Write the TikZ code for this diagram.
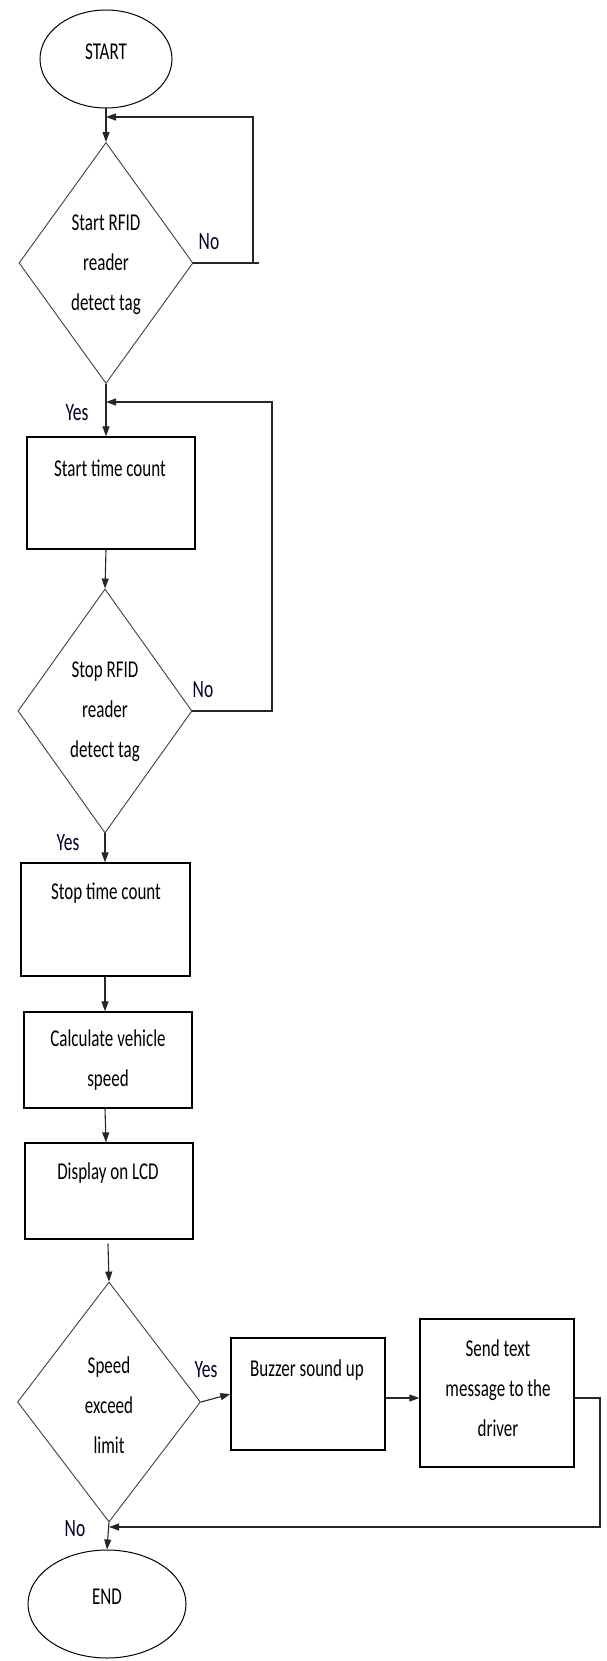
\documentclass[tikz,border=0pt]{standalone}
\usepackage{fontspec}
\setmainfont{Carlito}
\usetikzlibrary{shapes.geometric,arrows.meta,calc}
\newcommand{\sx}[1]{\scalebox{1}[1.42]{#1}}
\begin{document}
\begin{tikzpicture}[x=1pt,y=-1pt,
  term/.style={draw=black,line width=1pt,ellipse,inner sep=0pt},
  decis/.style={draw=black!75,line width=0.9pt,diamond,inner sep=0pt},
  proc/.style={draw=black,line width=1.3pt,rectangle,inner sep=0pt},
  txt/.style={font=\fontsize{17}{40}\selectfont,inner sep=0pt,align=center,text=black},
  lbl/.style={font=\fontsize{17.5}{20}\selectfont,inner sep=0pt,text=black!85!blue},
  conn/.style={line width=1.1pt,draw=black!85},
  arr/.style={conn,-{Triangle[length=10pt,width=7pt]}}]
\useasboundingbox (0,0) rectangle (606,1661);
\fill[white] (0,0) rectangle (606,1661);

% shapes
\node[term,minimum width=132pt,minimum height=98pt] (start) at (106,59) {};
\node[decis,minimum width=174pt,minimum height=241pt] (d1) at (106,263) {};
\node[proc,minimum width=168pt,minimum height=112pt] (b1) at (111,493) {};
\node[decis,minimum width=174pt,minimum height=244pt] (d2) at (105,711) {};
\node[proc,minimum width=169pt,minimum height=113pt] (b2) at (105.5,919.5) {};
\node[proc,minimum width=168pt,minimum height=96pt] (b3) at (108,1060) {};
\node[proc,minimum width=168pt,minimum height=96pt] (b4) at (109,1191) {};
\node[decis,minimum width=183pt,minimum height=240pt] (d3) at (109,1402) {};
\node[proc,minimum width=154pt,minimum height=112pt] (b5) at (308,1394) {};
\node[proc,minimum width=154pt,minimum height=148pt] (b6) at (497,1393) {};
\node[term,minimum width=158pt,minimum height=108pt] (end) at (107,1604) {};

% texts
\node[txt] (tstart) at (106,52) {\sx{START}};
\node[txt] (td1) at (106,265) {\sx{Start RFID}\\\sx{reader}\\\sx{detect tag}};
\node[txt] (tb1) at (110,468) {\sx{Start time count}};
\node[txt] (td2) at (105,712) {\sx{Stop RFID}\\\sx{reader}\\\sx{detect tag}};
\node[txt] (tb2) at (106,893) {\sx{Stop time count}};
\node[txt] (tb3) at (108,1060) {\sx{Calculate vehicle}\\\sx{speed}};
\node[txt] (tb4) at (108,1173) {\sx{Display on LCD}};
\node[txt] (td3) at (109,1405) {\sx{Speed}\\\sx{exceed}\\\sx{limit}};
\node[txt] (tb5) at (307,1370) {\sx{Buzzer sound up}};
\node[txt] (tb6) at (498,1388) {\sx{Send text}\\\sx{message to the}\\\sx{driver}};
\node[txt] (tend) at (107,1597) {\sx{END}};

% labels
\node[lbl] (no1) at (209,242) {\sx{No}};
\node[lbl] (no2) at (203,690) {\sx{No}};
\node[lbl] (no3) at (75,1529) {\sx{No}};
\node[lbl] (yes1) at (77,413) {\sx{Yes}};
\node[lbl] (yes2) at (68,843) {\sx{Yes}};
\node[lbl] (yes3) at (206,1370) {\sx{Yes}};

% loop corners
\coordinate (c1) at (253,117);
\coordinate (c1b) at (253,263);
\coordinate (c2) at (272,402);
\coordinate (c3a) at (600,1398);
\coordinate (c3) at (600,1527);

% connectors
\draw[arr] (start.south) -- (d1.north);
\draw[conn] (d1.east) -- ++(66,0);
\draw[arr] (c1b) -- (c1) -- (d1.north |- c1);
\draw[arr] (d1.south) -- (d1.south |- b1.north);
\draw[arr] (d1.south |- b1.south) -- (d2.north);
\draw[arr] (d2.east) -| (c2) -- (d1.south |- c2);
\draw[arr] (d2.south) -- (d2.south |- b2.north);
\draw[arr] (d2.south |- b2.south) -- (d2.south |- b3.north);
\draw[arr] (d2.south |- b3.south) -- ($(d2.south |- b4.north)+(1,0)$);
\draw[arr] ($(d3.north |- b4.south)+(-1,4)$) -- (d3.north);
\draw[arr] (d3.east) -- (b5.west);
\draw[arr] (b5.east |- c3a) -- (b6.west |- c3a);
\draw[arr] (b6.east |- c3a) -- (c3a) -- (c3) -- (d3.south |- c3);
\draw[arr] (d3.south) -- (end.north);
\end{tikzpicture}
\end{document}
